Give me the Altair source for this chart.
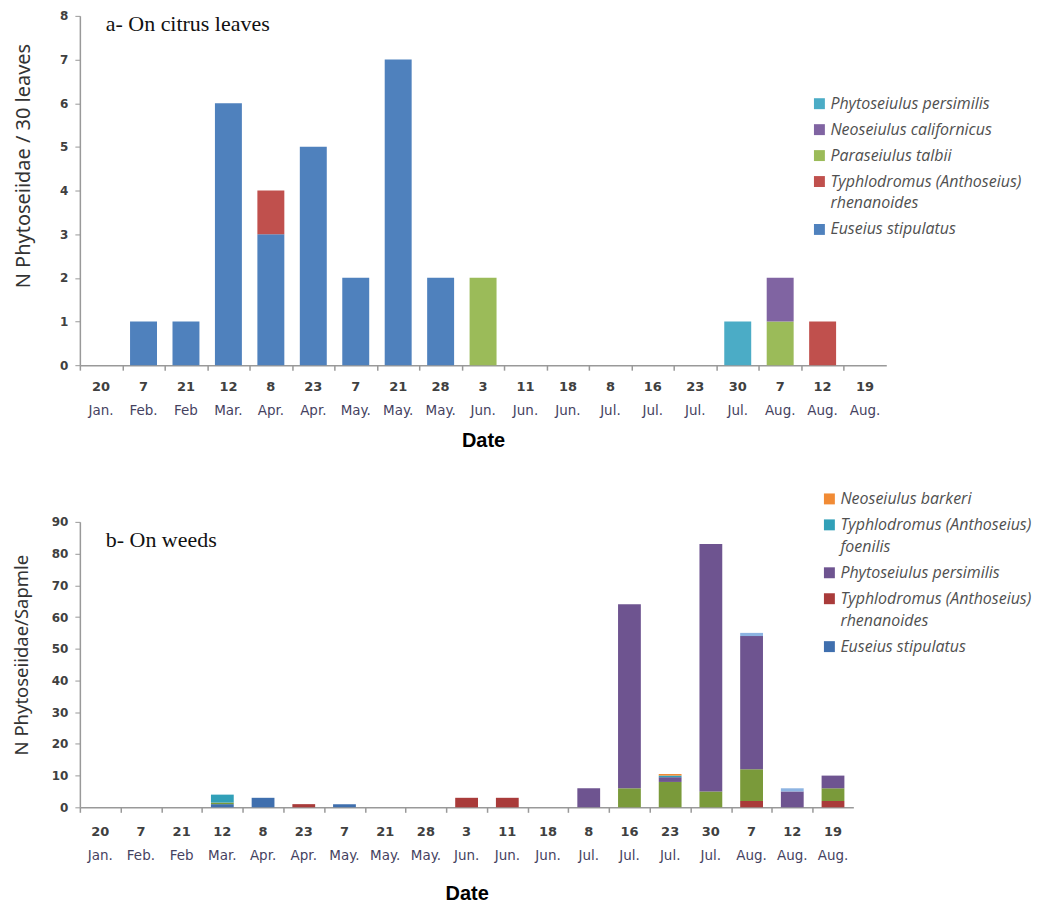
import altair as alt
import pandas as pd

dates = ["20 Jan.", "7 Feb.", "21 Feb", "12 Mar.", "8 Apr.", "23 Apr.", "7 May.", "21 May.",
         "28 May.", "3 Jun.", "11 Jun.", "18 Jun.", "8 Jul.", "16 Jul.", "23 Jul.", "30 Jul.",
         "7 Aug.", "12 Aug.", "19 Aug."]

# ---- a- On citrus leaves (stack order bottom -> top)
a_species = ["Euseius stipulatus", "Typhlodromus (Anthoseius) rhenanoides", "Paraseiulus talbii",
             "Neoseiulus californicus", "Phytoseiulus persimilis"]
a_euseius = [0, 1, 1, 6, 3, 5, 2, 7, 2, 0, 0, 0, 0, 0, 0, 0, 0, 0, 0]
a_rhen    = [0, 0, 0, 0, 1, 0, 0, 0, 0, 0, 0, 0, 0, 0, 0, 0, 0, 1, 0]
a_talbii  = [0, 0, 0, 0, 0, 0, 0, 0, 0, 2, 0, 0, 0, 0, 0, 0, 1, 0, 0]
a_calif   = [0, 0, 0, 0, 0, 0, 0, 0, 0, 0, 0, 0, 0, 0, 0, 0, 1, 0, 0]
a_persim  = [0, 0, 0, 0, 0, 0, 0, 0, 0, 0, 0, 0, 0, 0, 0, 1, 0, 0, 0]
a_values = [a_euseius, a_rhen, a_talbii, a_calif, a_persim]
a_colors = {"Phytoseiulus persimilis": "#4BACC6", "Neoseiulus californicus": "#8064A2",
            "Paraseiulus talbii": "#9BBB59", "Typhlodromus (Anthoseius) rhenanoides": "#C0504D",
            "Euseius stipulatus": "#4F81BD"}
a_legend = ["Phytoseiulus persimilis", "Neoseiulus californicus", "Paraseiulus talbii",
            "Typhlodromus (Anthoseius) rhenanoides", "Euseius stipulatus"]

# ---- b- On weeds (stack order bottom -> top)
b_species = ["Euseius stipulatus", "Typhlodromus (Anthoseius) rhenanoides", "Paraseiulus talbii",
             "Phytoseiulus persimilis", "Neoseiulus californicus",
             "Typhlodromus (Anthoseius) foenilis", "Neoseiulus barkeri"]
b_euseius  = [0, 0, 0, 1, 3, 0, 1, 0, 0, 0, 0, 0, 0, 0, 0, 0, 0, 0, 0]
b_rhen     = [0, 0, 0, 0, 0, 1, 0, 0, 0, 3, 3, 0, 0, 0, 0, 0, 2, 0, 2]
b_talbii   = [0, 0, 0, 0.5, 0, 0, 0, 0, 0, 0, 0, 0, 0, 6, 8, 5, 10, 0, 4]
b_persim   = [0, 0, 0, 0, 0, 0, 0, 0, 0, 0, 0, 0, 6, 58, 1.5, 78, 42, 5, 4]
b_calif    = [0, 0, 0, 0, 0, 0, 0, 0, 0, 0, 0, 0, 0, 0, 0, 0, 1, 1, 0]
b_foenilis = [0, 0, 0, 2.5, 0, 0, 0, 0, 0, 0, 0, 0, 0, 0, 0.5, 0, 0, 0, 0]
b_barkeri  = [0, 0, 0, 0, 0, 0, 0, 0, 0, 0, 0, 0, 0, 0, 0.5, 0, 0, 0, 0]
b_values = [b_euseius, b_rhen, b_talbii, b_persim, b_calif, b_foenilis, b_barkeri]
b_colors = {"Neoseiulus barkeri": "#F18B35", "Typhlodromus (Anthoseius) foenilis": "#31A0B8",
            "Phytoseiulus persimilis": "#6E5490", "Typhlodromus (Anthoseius) rhenanoides": "#A93B3A",
            "Euseius stipulatus": "#3F6FAE", "Paraseiulus talbii": "#7A9A3A",
            "Neoseiulus californicus": "#8DB4E2"}
b_legend = ["Neoseiulus barkeri", "Typhlodromus (Anthoseius) foenilis", "Phytoseiulus persimilis",
            "Typhlodromus (Anthoseius) rhenanoides", "Euseius stipulatus"]


def long_df(species, values):
    rows = []
    for k, (sp, vals) in enumerate(zip(species, values)):
        for d, v in zip(dates, vals):
            rows.append({"date": d, "species": sp, "value": v, "rank": k})
    return pd.DataFrame(rows)


LEGEND_EXPR = ("datum.label == 'Typhlodromus (Anthoseius) rhenanoides' ? "
               "['Typhlodromus (Anthoseius)', 'rhenanoides'] : "
               "datum.label == 'Typhlodromus (Anthoseius) foenilis' ? "
               "['Typhlodromus (Anthoseius)', 'foenilis'] : datum.label")


def panel(df, colors, legend_vals, ymax, ystep, width, height, ytitle, ytitle_x, ytitle_y,
          ytitle_size, label, label_y, legend_x, legend_y, row_pad, pad_inner, day_pad,
          month_pad, date_pad):
    step = width / len(dates)
    xscale = alt.Scale(domain=dates, paddingInner=pad_inner, paddingOuter=pad_inner / 2)
    dom = list(colors.keys())
    yenc = alt.Y("value:Q", stack="zero",
                 scale=alt.Scale(domain=[0, ymax], nice=False),
                 axis=alt.Axis(values=list(range(0, ymax + 1, ystep)), grid=False,
                               labelOverlap=False, labelFlush=False,
                               title=ytitle, titleFont="Noto Sans", titleFontSize=ytitle_size,
                               titleFontWeight="normal", titleColor="#333333",
                               titleX=ytitle_x, titleY=ytitle_y, titleAngle=270,
                               titleAlign="center", titleBaseline="middle",
                               labelFont="DejaVu Sans", labelFontWeight="bold",
                               labelFontSize=12, labelColor="#404040", labelPadding=7,
                               tickSize=5, tickColor="#999999", domainColor="#999999",
                               domainWidth=1.5))
    bars = alt.Chart(df).mark_bar().encode(
        x=alt.X("date:N", sort=dates, scale=xscale,
                axis=alt.Axis(orient="bottom", title=None, ticks=False, labelAngle=0,
                              labelExpr="split(datum.label, ' ')[0]",
                              labelFont="DejaVu Sans", labelFontWeight="bold",
                              labelFontSize=13, labelColor="#404040", labelPadding=day_pad,
                              domainColor="#999999", domainWidth=1.5)),
        y=yenc,
        color=alt.Color("species:N",
                        scale=alt.Scale(domain=dom, range=[colors[s] for s in dom]),
                        legend=alt.Legend(values=legend_vals, title=None, orient="none",
                                          legendX=legend_x, legendY=legend_y,
                                          symbolType="square", symbolSize=120,
                                          symbolStrokeWidth=0, labelFont="Open Sans",
                                          labelFontStyle="italic", labelFontSize=16,
                                          labelColor="#505050", labelLimit=400,
                                          labelOffset=3, rowPadding=row_pad,
                                          labelExpr=LEGEND_EXPR)),
        order=alt.Order("rank:Q"),
    )
    months = alt.Chart(df).mark_bar(opacity=0).encode(
        x=alt.X("date:N", sort=dates, scale=xscale,
                axis=alt.Axis(orient="bottom", title="Date", ticks=False, domain=False,
                              labelAngle=0, labelExpr="split(datum.label, ' ')[1]",
                              labelFont="DejaVu Sans", labelFontSize=13.5,
                              labelColor="#45425f", labelPadding=month_pad,
                              titleFont="Liberation Sans", titleFontSize=20,
                              titleFontWeight="bold", titleColor="#000000",
                              titlePadding=date_pad)),
        y=yenc,
    )
    ticks = alt.Chart(df).mark_bar(opacity=0).encode(
        x=alt.X("date:N", sort=dates, scale=xscale,
                axis=alt.Axis(orient="bottom", title=None, labels=False, domain=False,
                              ticks=True, tickSize=5, tickColor="#999999", tickWidth=1.5,
                              tickOffset=-step / 2)),
        y=yenc,
    )
    txt = alt.Chart(pd.DataFrame({"t": [label]})).mark_text(
        align="left", baseline="alphabetic", font="Liberation Serif", fontSize=22,
        color="#111111"
    ).encode(text="t:N", x=alt.value(26), y=alt.value(label_y))
    return alt.layer(bars, months, ticks, txt).resolve_axis(x="independent").properties(
        width=width, height=height)


top = panel(long_df(a_species, a_values), a_colors, a_legend, 8, 1, 808, 350,
            "N Phytoseiidae / 30 leaves", -56, 150, 20, "a- On citrus leaves", 15,
            733, 80, 10, 0.365, 15, 38, 14)
bottom = panel(long_df(b_species, b_values), b_colors, b_legend, 90, 10, 775, 286,
               "N Phytoseiidae/Sapmle", -58, 133, 18.5, "b- On weeds", 25,
               743, -31, 10, 0.44, 18, 41, 22)

chart = alt.vconcat(top, bottom, spacing=40).resolve_scale(color="independent").properties(
    padding={"left": 4, "top": 1, "right": 1, "bottom": 1}).configure(
    background="white", view=alt.ViewConfig(strokeWidth=0),
    style={"guide-label": {"lineHeight": 22}})

chart.save("out.html", embed_options={"renderer": "svg", "actions": False})
